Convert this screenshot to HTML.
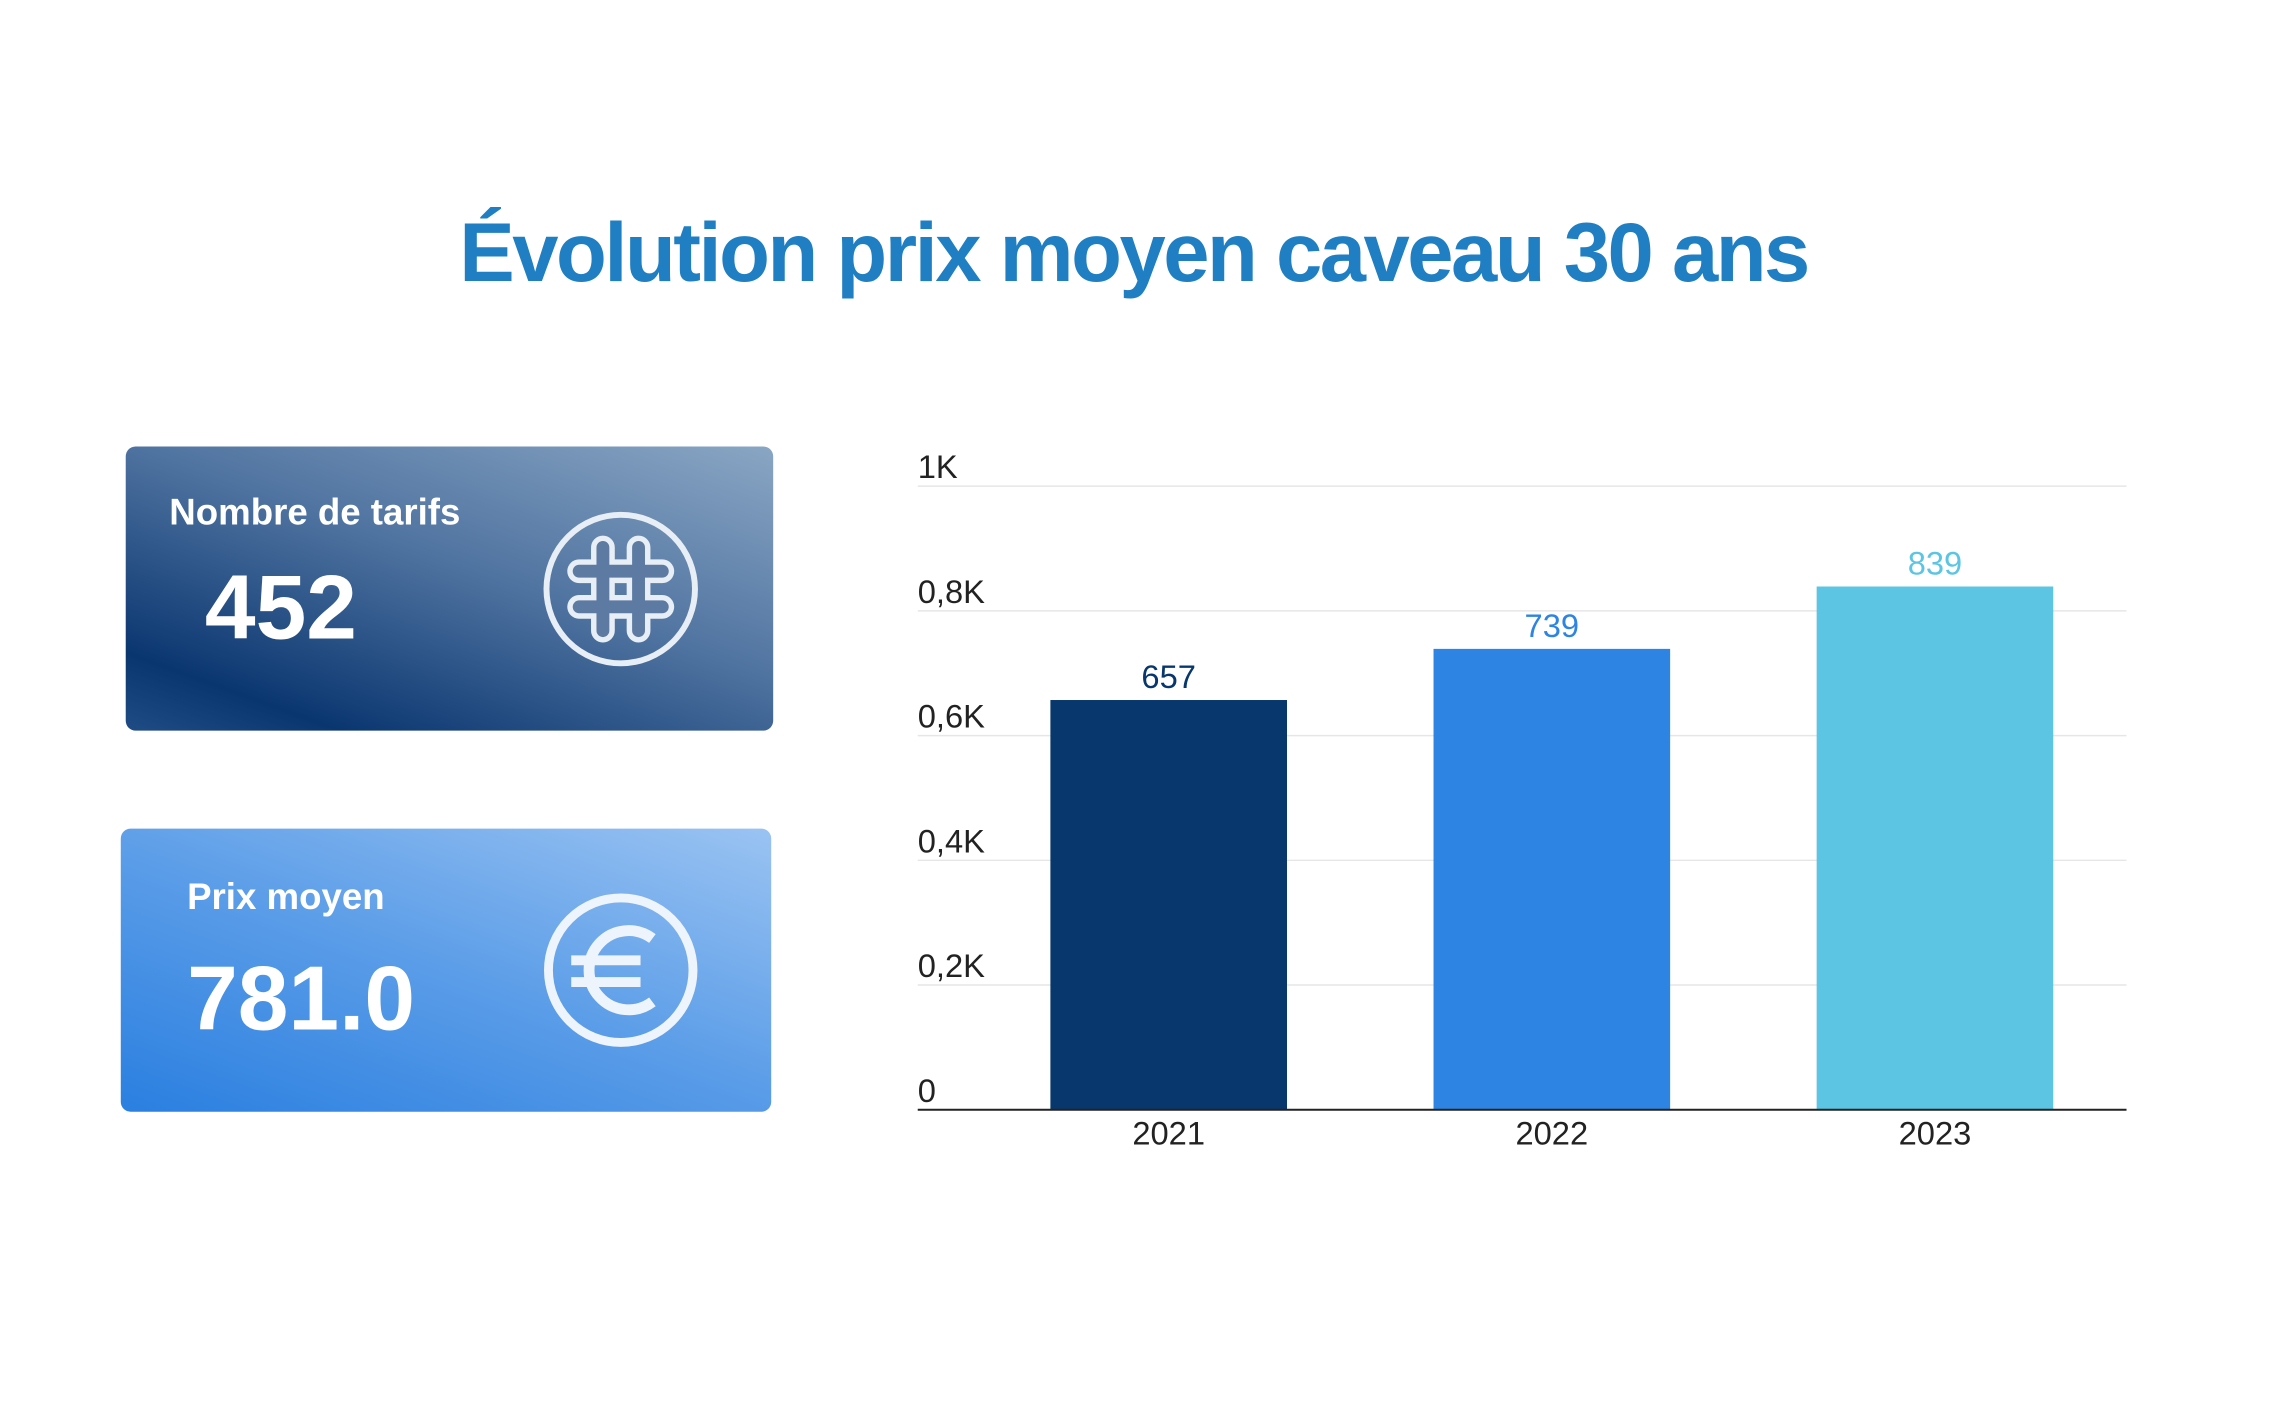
<!DOCTYPE html>
<html><head><meta charset="utf-8">
<style>
body{margin:0;width:2290px;height:1412px;background:#fff;overflow:hidden;font-family:"Liberation Sans",sans-serif;position:relative}
#wrap{position:absolute;left:0;top:0;width:2290px;height:1412px;transform:scale(0.99);transform-origin:0 0}
#title{position:absolute;left:0;width:2290px;top:207px;text-align:center;font-size:84px;font-weight:bold;color:#1f7fc2;letter-spacing:-2.5px}
.card{position:absolute;border-radius:10px;color:#fff}
#card1{left:127px;top:451px;width:654px;height:287px;background:linear-gradient(200deg,#8aa6c4 0%,#4f73a0 45%,#0a3670 85%,#1f4c84 100%)}
#card2{left:122px;top:837px;width:657px;height:286px;background:linear-gradient(20deg,#2a7fe0 0%,#5b9de8 50%,#9ac3f2 100%)}
.lbl{position:absolute;font-size:37px;font-weight:bold}
.val{position:absolute;font-size:92px;font-weight:bold}
</style></head><body>
<div id="wrap">
<div id="title">Évolution prix moyen caveau 30 ans</div>
<div class="card" id="card1">
 <div class="lbl" style="left:44px;top:46px">Nombre de tarifs</div>
 <div class="val" style="left:80px;top:111px">452</div>
 <svg style="position:absolute;left:420px;top:64px" width="160" height="160">
  <circle cx="80" cy="80" r="75" fill="none" stroke="#e8eef6" stroke-width="6"/>
  <path d="M62 38 V122 M98 38 V122 M38 62 H122 M38 98 H122" fill="none" stroke="#e8eef6" stroke-width="24" stroke-linecap="round"/>
  <path d="M62 38 V122 M98 38 V122 M38 62 H122 M38 98 H122" fill="none" stroke="#5d7aa2" stroke-width="13" stroke-linecap="round"/>
 </svg>
</div>
<div class="card" id="card2">
 <div class="lbl" style="left:67px;top:48px">Prix moyen</div>
 <div class="val" style="left:67px;top:120px">781.0</div>
 <svg style="position:absolute;left:425px;top:63px" width="160" height="160">
  <circle cx="80" cy="80" r="73" fill="none" stroke="#eef4fc" stroke-width="9"/>
  <path d="M112 48 A40 40 0 1 0 112 112" fill="none" stroke="#eef4fc" stroke-width="11"/>
  <path d="M30 70 H100 M30 92 H100" stroke="#eef4fc" stroke-width="10"/>
 </svg>
</div>
<svg id="chart" style="position:absolute;left:0;top:0" width="2290" height="1412"></svg>
</div>
<script>
const categories=["2021","2022","2023"];
const values=[657,739,839];
const tickValues=[0,200,400,600,800,1000];
const tickLabels=["0","0,2K","0,4K","0,6K","0,8K","1K"];
const colors=["#08376e","#2e84e2","#5bc5e3"];
const svg=document.getElementById('chart');
const NS="http://www.w3.org/2000/svg";
const x0=927,x1=2148,y0=1121,yTop=491,bandStart=987,step=387,bw=239;
const yScale=v=>y0-(v/1000)*(y0-yTop);
const xCenter=i=>bandStart+(i+0.5)*step;
function mk(t,a){const e=document.createElementNS(NS,t);for(const k in a)e.setAttribute(k,a[k]);svg.appendChild(e);return e;}
tickValues.forEach((v,i)=>{
 if(v>0){const g=mk('line',{x1:x0,x2:x1,y1:yScale(v),y2:yScale(v),stroke:'#e6e6e6','stroke-width':1.5});
 
 }
 const t=mk('text',{x:x0,y:yScale(v)-8,'font-size':33,fill:'#222','font-family':'Liberation Sans, sans-serif'});
 t.textContent=tickLabels[i];
 
 
});
categories.forEach((c,i)=>{
 const cx=xCenter(i);
 const r=mk('rect',{x:cx-bw/2,y:yScale(values[i]),width:bw,height:y0-yScale(values[i]),fill:colors[i]});
 
 
 const vl=mk('text',{x:cx,y:yScale(values[i])-12,'text-anchor':'middle','font-size':33,fill:colors[i],'font-family':'Liberation Sans, sans-serif'});
 vl.textContent=values[i];
 
 
 const xl=mk('text',{x:cx,y:y0+35,'text-anchor':'middle','font-size':33,fill:'#222','font-family':'Liberation Sans, sans-serif'});
 xl.textContent=c;
 
 
});
const ax=mk('line',{x1:x0,x2:x1,y1:y0,y2:y0,stroke:'#222','stroke-width':2});


</script>
</body></html>
